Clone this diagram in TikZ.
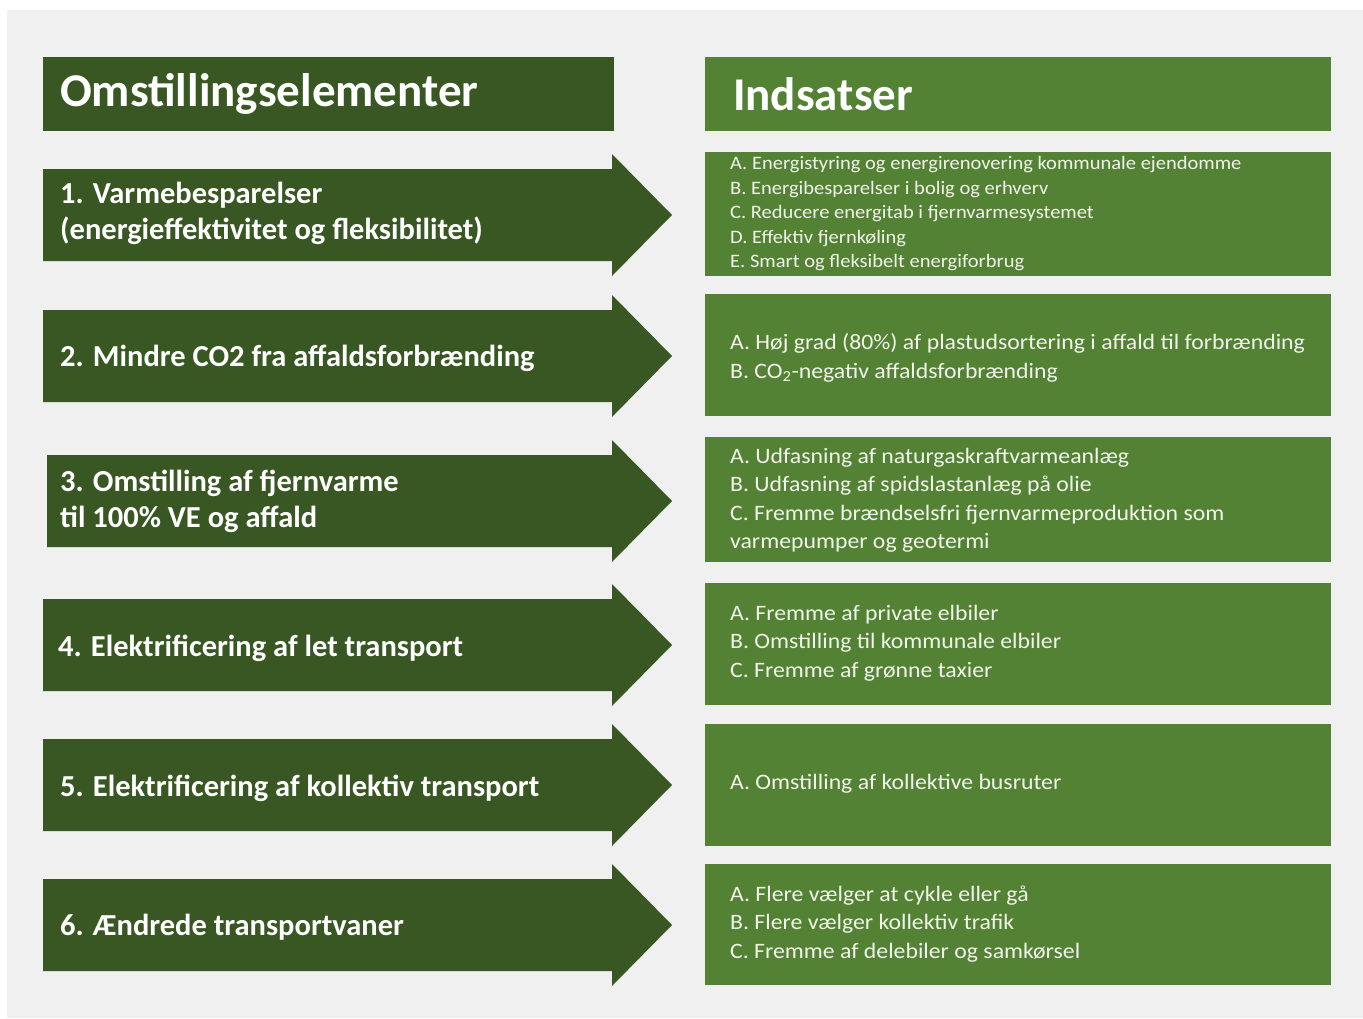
\documentclass[tikz,border=0pt]{standalone}
\usepackage{fontspec}
\setmainfont{Carlito}
\newfontfamily\listfont[FakeStretch=1.08]{Carlito}
\definecolor{pagebg}{HTML}{F0F0F0}
\definecolor{darkgreen}{HTML}{385723}
\definecolor{midgreen}{HTML}{548235}
\definecolor{boxtext}{HTML}{F0F4EA}

% block arrow: #1 left edge, #2 vertical centre
\newcommand\omarrow[2]{%
  \fill[darkgreen] (#1,#2-46) -- (612,#2-46) -- (612,#2-61) -- (672,#2)
    -- (612,#2+61) -- (612,#2+46) -- (#1,#2+46) -- cycle;}
% action box: #1 top, #2 bottom
\newcommand\ombox[2]{%
  \fill[midgreen] (705,#1) rectangle (1331,#2);}

\begin{document}
\begin{tikzpicture}[x=1pt,y=-1pt,
  headtext/.style={anchor=west, text=white, inner sep=0pt,
    font=\fontsize{47}{50}\selectfont\bfseries},
  arrowtext/.style={anchor=west, text=white, inner sep=0pt, align=left,
    font=\fontsize{30.5}{36}\selectfont\bfseries},
  smalllist/.style={anchor=west, text=boxtext, inner sep=0pt, align=left,
    font=\listfont\fontsize{19}{24.5}\selectfont},
  itemlist/.style={anchor=west, text=boxtext, inner sep=0pt, align=left,
    font=\listfont\fontsize{22}{28.5}\selectfont}]
\useasboundingbox (0,0) rectangle (1363,1018);
\fill[white] (0,0) rectangle (1363,1018);
\fill[pagebg] (7,10) rectangle (1363,1018);

% column headers
\fill[darkgreen] (43,57) rectangle (614,131);
\node[headtext] (hleft) at (60,94) {Omstillingselementer};
\fill[midgreen] (705,57) rectangle (1331,131);
\node[headtext] (hright) at (733,94) {Indsatser};

% transition elements
\omarrow{43}{215}
\node[arrowtext] (e1) at (60,213) {1. Varmebesparelser\\(energieffektivitet og fleksibilitet)};
\omarrow{43}{356}
\node[arrowtext] (e2) at (60,358) {2. Mindre CO2 fra affaldsforbrænding};
\omarrow{47}{501}
\node[arrowtext] (e3) at (60,501) {3. Omstilling af fjernvarme\\til 100\% VE og affald};
\omarrow{43}{645}
\node[arrowtext] (e4) at (58,648) {4. Elektrificering af let transport};
\omarrow{43}{785}
\node[arrowtext] (e5) at (60,788) {5. Elektrificering af kollektiv transport};
\omarrow{43}{925}
\node[arrowtext] (e6) at (60,927) {6. Ændrede transportvaner};

% actions
\ombox{152}{276}
\node[smalllist] (a1) at (730,214) {A. Energistyring og energirenovering kommunale ejendomme\\
B. Energibesparelser i bolig og erhverv\\
C. Reducere energitab i fjernvarmesystemet\\
D. Effektiv fjernkøling\\
E. Smart og fleksibelt energiforbrug};
\ombox{294}{416}
\node[itemlist] (a2) at (730,358) {A. Høj grad (80\%) af plastudsortering i affald til forbrænding\\
B. CO\textsubscript{2}-negativ affaldsforbrænding};
\ombox{437}{562}
\node[itemlist] (a3) at (730,500) {A. Udfasning af naturgaskraftvarmeanlæg\\
B. Udfasning af spidslastanlæg på olie\\
C. Fremme brændselsfri fjernvarmeproduktion som\\
varmepumper og geotermi};
\ombox{583}{705}
\node[itemlist] (a4) at (730,643) {A. Fremme af private elbiler\\
B. Omstilling til kommunale elbiler\\
C. Fremme af grønne taxier};
\ombox{724}{846}
\node[itemlist] (a5) at (730,784) {A. Omstilling af kollektive busruter};
\ombox{864}{985}
\node[itemlist] (a6) at (730,924) {A. Flere vælger at cykle eller gå\\
B. Flere vælger kollektiv trafik\\
C. Fremme af delebiler og samkørsel};
\end{tikzpicture}
\end{document}
